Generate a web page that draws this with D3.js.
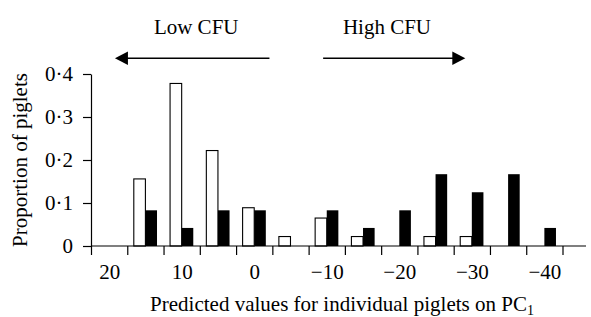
<!DOCTYPE html>
<html>
<head>
<meta charset="utf-8">
<script src="https://cdnjs.cloudflare.com/ajax/libs/d3/7.8.5/d3.min.js"></script>
<style>
  body { margin: 0; background: #fff; }
  svg text { font-family: "Liberation Serif", "Times New Roman", serif; fill: #000; }
  .axis path, .axis line { stroke: #000; stroke-width: 1.2; }
</style>
</head>
<body>
<div id="chart"></div>
<script>
// bin centres on PC1 (bins are 5 units wide)
const binCentres = [20, 15, 10, 5, 0, -5, -10, -15, -20, -25, -30, -35, -40];
// open bars
const whiteBars = [0, 0.156, 0.378, 0.222, 0.089, 0.022, 0.065, 0.022, 0, 0.022, 0.022, 0, 0];
// filled bars
const blackBars = [0, 0.083, 0.042, 0.083, 0.083, 0, 0.083, 0.042, 0.083, 0.167, 0.125, 0.167, 0.042];
const xLabels = [20, 10, 0, -10, -20, -30, -40];
const yTicks = [0, 0.1, 0.2, 0.3, 0.4];

const width = 591, height = 317;
const binWidth = 5;
const barUnits = 1.6; // width of one bar in PC1 units
const fontSize = '21px';

const svg = d3.select('#chart').append('svg')
    .attr('width', width)
    .attr('height', height);

const x = d3.scaleLinear()
    .domain([binCentres[0] + binWidth / 2, binCentres[binCentres.length - 1] - binWidth / 2])
    .range([91, 562.5]);

const y = d3.scaleLinear()
    .domain([0, 0.4])
    .range([246, 74]);

const binEdges = binCentres.map(c => c + binWidth / 2)
    .concat([binCentres[binCentres.length - 1] - binWidth / 2]);

const rows = binCentres.map((c, i) => ({centre: c, white: whiteBars[i], black: blackBars[i]}));

// bars
svg.append('g').selectAll('rect.white')
    .data(rows.filter(d => d.white > 0))
  .join('rect')
    .attr('class', 'white')
    .attr('x', d => x(d.centre + barUnits))
    .attr('y', d => y(d.white))
    .attr('width', d => x(d.centre) - x(d.centre + barUnits))
    .attr('height', d => y(0) - y(d.white))
    .attr('fill', '#fff')
    .attr('stroke', '#000')
    .attr('stroke-width', 1.1);

svg.append('g').selectAll('rect.black')
    .data(rows.filter(d => d.black > 0))
  .join('rect')
    .attr('class', 'black')
    .attr('x', d => x(d.centre))
    .attr('y', d => y(d.black))
    .attr('width', d => x(d.centre - barUnits) - x(d.centre))
    .attr('height', d => y(0) - y(d.black))
    .attr('fill', '#000');

// x axis: ticks on bin edges, labels on bin centres
const xAxisG = svg.append('g')
    .attr('class', 'axis')
    .attr('transform', `translate(0,${y(0)})`)
    .call(d3.axisBottom(x).tickValues(binEdges).tickSize(9).tickSizeOuter(0).tickFormat(''));
xAxisG.select('.domain').attr('d', `M${x.range()[0]},0H586`);

svg.append('g')
    .attr('transform', `translate(0,${y(0)})`)
    .call(d3.axisBottom(x).tickValues(xLabels).tickSize(0).tickPadding(18).tickFormat(d3.format('d')))
    .call(g => g.select('.domain').remove())
    .selectAll('text')
    .style('font-size', fontSize);

// y axis
svg.append('g')
    .attr('class', 'axis')
    .attr('transform', `translate(${x.range()[0]},0)`)
    .call(d3.axisLeft(y).tickValues(yTicks).tickSize(8).tickSizeOuter(0).tickPadding(10)
      .tickFormat(d => d === 0 ? '0' : d3.format('.1f')(d).replace('.', '\u00b7')))
    .selectAll('text')
    .style('font-size', fontSize);

// axis titles
const xTitle = svg.append('text')
    .attr('x', 342)
    .attr('y', 311)
    .attr('text-anchor', 'middle')
    .style('font-size', fontSize)
    .text('Predicted values for individual piglets on PC');
xTitle.append('tspan')
    .attr('dy', 4)
    .style('font-size', '14px')
    .text('1');

svg.append('text')
    .attr('transform', 'rotate(-90)')
    .attr('x', -160)
    .attr('y', 27)
    .attr('text-anchor', 'middle')
    .style('font-size', fontSize)
    .text('Proportion of piglets');

// direction arrows
const arrows = [
  {label: 'Low CFU', from: -2.1, to: 19.2, textAt: 8.0},
  {label: 'High CFU', from: -9.5, to: -29.1, textAt: -18.3}
];
const arrowY = 58.3, headLen = 13, headHalf = 6.7;

arrows.forEach(a => {
  const x0 = x(a.from), x1 = x(a.to);
  const dir = Math.sign(x1 - x0);
  svg.append('line')
      .attr('x1', x0).attr('x2', x1 - dir * headLen + dir)
      .attr('y1', arrowY).attr('y2', arrowY)
      .attr('stroke', '#000')
      .attr('stroke-width', 1.4);
  svg.append('path')
      .attr('d', `M${x1},${arrowY}L${x1 - dir * headLen},${arrowY - headHalf}L${x1 - dir * headLen},${arrowY + headHalf}Z`)
      .attr('fill', '#000');
  svg.append('text')
      .attr('x', x(a.textAt))
      .attr('y', 34)
      .attr('text-anchor', 'middle')
      .style('font-size', fontSize)
      .text(a.label);
});
</script>
</body>
</html>
